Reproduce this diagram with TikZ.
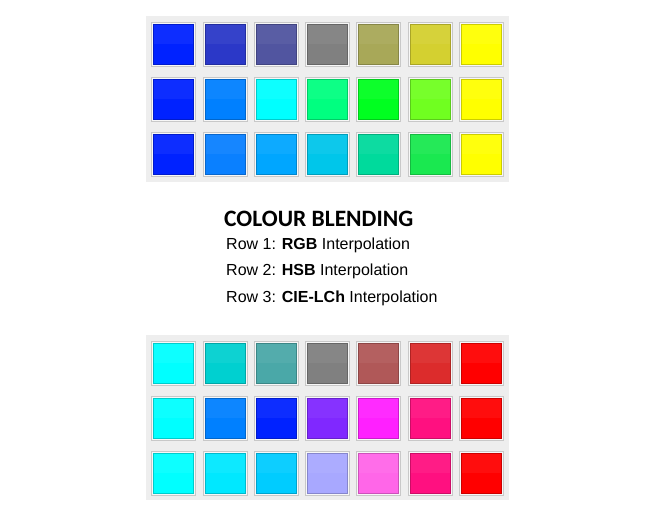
\documentclass[tikz,border=0pt]{standalone}
\usepackage{fontspec}
\setmainfont{Liberation Sans}
\newfontfamily\titlefont{Carlito}
\definecolor{panelgray}{HTML}{EEEEEE}
\definecolor{framegray}{HTML}{C8C8C8}
\begin{document}
\begin{tikzpicture}[
    x=1pt, y=-1pt,
    panel/.style={fill=panelgray, draw=none},
    frame/.style={draw=framegray, fill=white!97!black, minimum size=44pt,
                  inner sep=0pt, line width=1pt},
    swatch/.style={minimum size=40pt, inner sep=0pt, line width=1pt,
                   path picture={\fill[white, opacity=0.05]
                     (path picture bounding box.north west) rectangle
                     (path picture bounding box.east);}},
    txt/.style={anchor=base west, inner sep=0pt,
                font=\fontsize{16}{18}\selectfont},
  ]
  \useasboundingbox[fill=white] (0,0) rectangle (647,510);

  % grey panels behind the two grids
  \fill[panel] (146,16) rectangle (509,182);
  \fill[panel] (146,335) rectangle (509,500);

  % blue -> yellow
  \foreach \colours [count=\r] in {
      {0022FF,2B38C8,5155A0,808080,A8A858,D4D030,FFFF00},
      {0022FF,0080FF,00FFFF,00FF80,00FF20,70FF20,FFFF00},
      {0022FF,0A80FF,00A6FF,00C6EA,00DA9C,1AE850,FFFF00}} {
    \foreach \hex [count=\c] in \colours {
      \definecolor{sw}{HTML}{\hex}
      \node[frame] (tf-\r-\c) at ({173.7+51.3*(\c-1)},{44.3+55*(\r-1)}) {};
      \node[swatch, fill=sw, draw=sw!80!black] (ts-\r-\c) at (tf-\r-\c) {};
    }
  }

  % cyan -> red
  \foreach \colours [count=\r] in {
      {00FFFF,00D0D0,4AA8A8,808080,B05858,DC2C2C,FF0000},
      {00FFFF,0080FF,0022FF,8028FF,FF20FF,FF1080,FF0000},
      {00FFFF,00E8FF,00CCFF,A8A8FF,FF66E8,FF1080,FF0000}} {
    \foreach \hex [count=\c] in \colours {
      \definecolor{sw}{HTML}{\hex}
      \node[frame] (bf-\r-\c) at ({173.7+51.3*(\c-1)},{363+55*(\r-1)}) {};
      \node[swatch, fill=sw, draw=sw!80!black] (bs-\r-\c) at (bf-\r-\c) {};
    }
  }

  \node[anchor=base west, inner sep=0pt,
        font=\titlefont\bfseries\fontsize{23.5}{26}\selectfont] (title) at (224,227)
    {COLOUR BLENDING};
  \node[txt] (row1) at (226,250) {Row 1: \textbf{RGB} Interpolation};
  \node[txt] (row2) at (226,276) {Row 2: \textbf{HSB} Interpolation};
  \node[txt] (row3) at (226,302) {Row 3: \textbf{CIE-LCh} Interpolation};
\end{tikzpicture}
\end{document}
